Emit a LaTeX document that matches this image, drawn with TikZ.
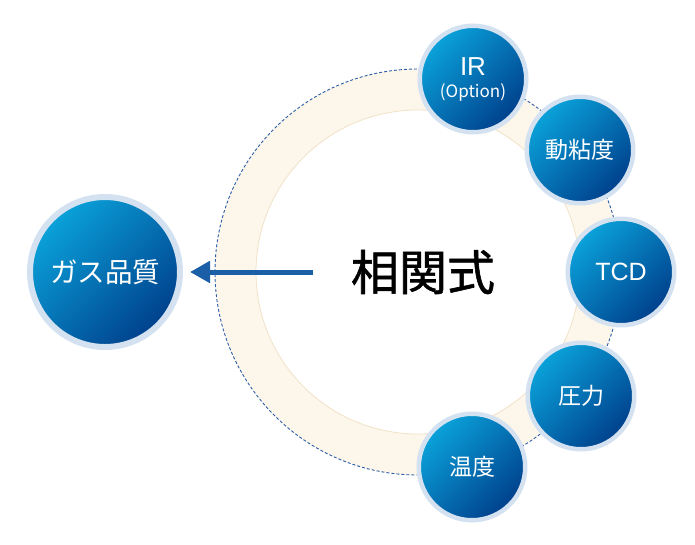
\documentclass[tikz,border=0pt]{standalone}
\usepackage{fontspec}
\setmainfont{Liberation Sans}
\newfontfamily\cjk{Noto Sans CJK JP}
\newfontfamily\cjkb{Noto Sans CJK JP}[FakeBold=1.2]
\usetikzlibrary{arrows.meta}
\definecolor{bandc}{HTML}{FDF6EA}
\definecolor{bandedge}{HTML}{F1E2C8}
\definecolor{dashc}{HTML}{2B5DA8}
\definecolor{ballL}{HTML}{0AA2DA}
\definecolor{ballD}{HTML}{00408C}
\definecolor{rimc}{HTML}{D3E1F1}
\definecolor{arrowc}{HTML}{1B5FA6}
\tikzset{
  ball/.style={circle, inner sep=0pt, minimum size=106.5pt, draw=rimc, line width=4.5pt,
    top color=ballL, bottom color=ballD, shading angle=45, text=white, align=center,
    font=\cjk\fontsize{23}{25}\selectfont},
  bigball/.style={ball, minimum size=150pt, line width=6pt, font=\cjk\fontsize{27.5}{30}\selectfont},
}
\begin{document}
\begin{tikzpicture}[x=1pt,y=-1pt]
\useasboundingbox (0,0) rectangle (695,544);
\coordinate (c) at (418,272);
% ring band
\fill[bandc, even odd rule] (c) circle[radius=203pt] (c) circle[radius=162pt];
\draw[bandedge, line width=0.8pt] (c) circle[radius=162pt];
\draw[dashc, line width=0.9pt, dash pattern=on 3pt off 2pt] (c) circle[radius=203pt];
% center text
\node (eq) at (423,272) {\cjkb\fontsize{48}{52}\selectfont 相関式};
% satellites
\node[ball] (ir) at (473,79) {\rmfamily\fontsize{26}{26}\selectfont IR\\[-3pt]\fontsize{17}{19}\selectfont (Option)};
\node[ball] (kv) at (580,150) {動粘度};
\node[ball] (tcd) at (621,272) {\rmfamily\fontsize{25}{26}\selectfont TCD};
\node[ball] (pr) at (581,396) {圧力};
\node[ball] (tp) at (472,467) {温度};
% gas quality
\node[bigball] (gas) at (105,272) {ガス品質};
\coordinate (as) at (313,272);
\draw[arrowc, line width=5pt, -{Triangle[length=20pt,width=21pt]}] (as) -- ([xshift=7pt]gas.east);
\end{tikzpicture}
\end{document}
